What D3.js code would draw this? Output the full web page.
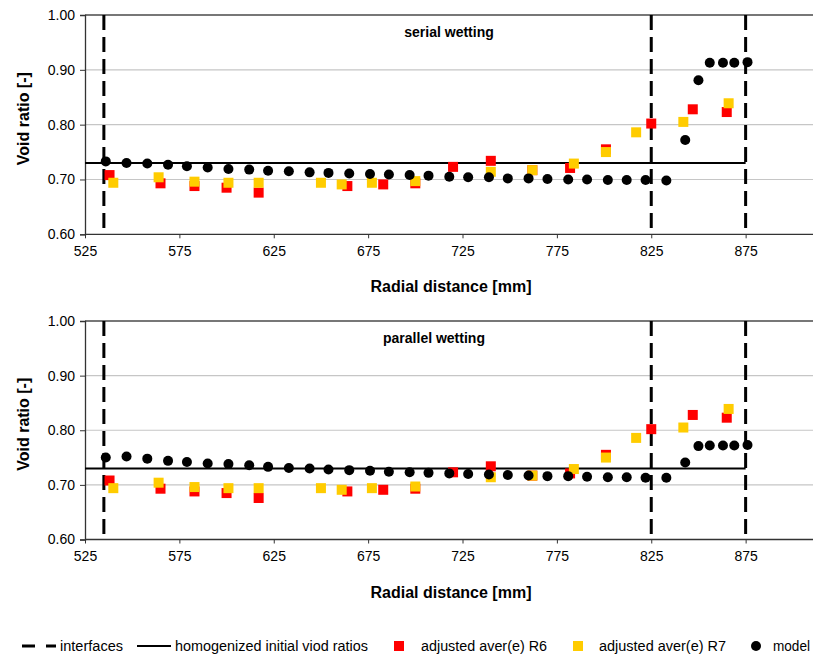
<!DOCTYPE html>
<html>
<head>
<meta charset="utf-8">
<script src="https://d3js.org/d3.v7.min.js"></script>
<style type="text/css">
    body { margin: 0; background: #fff; }
    text { font-family: Arial, "Liberation Sans", sans-serif; }
</style>
</head>
<body>
<script type="text/javascript">
// ---- data ----
var interfaces = [535, 825, 875];
var initialVoid = 0.73;

var r6X = [538, 565, 583, 600, 617, 664, 683, 700, 720, 740, 762, 782, 801, 825, 847, 865];
var r6Y = [0.708, 0.693, 0.688, 0.685, 0.676, 0.688, 0.691, 0.693, 0.723, 0.734, 0.717, 0.721, 0.755, 0.802, 0.828, 0.823];

var r7X = [540, 564, 583, 601, 617, 650, 661, 677, 700, 740, 762, 784, 801, 817, 842, 866];
var r7Y = [0.694, 0.704, 0.696, 0.694, 0.694, 0.694, 0.691, 0.694, 0.697, 0.714, 0.717, 0.729, 0.750, 0.786, 0.805, 0.839];

var modelX = [536, 547, 558, 569, 579, 590, 601, 612, 622, 633, 644, 654, 665, 676, 686, 697, 707, 718,
              728, 739, 749, 760, 770, 781, 791, 802, 812, 822, 833, 843, 850, 856, 863, 869, 876];
var serialModel = [0.733, 0.730, 0.729, 0.727, 0.724, 0.722, 0.719, 0.718, 0.716, 0.715, 0.713, 0.712,
                   0.711, 0.710, 0.709, 0.708, 0.707, 0.705, 0.704, 0.704, 0.702, 0.702, 0.701, 0.700,
                   0.700, 0.699, 0.699, 0.699, 0.698, 0.772, 0.881, 0.913, 0.913, 0.913, 0.914];
var parallelModel = [0.750, 0.752, 0.748, 0.744, 0.742, 0.739, 0.738, 0.736, 0.733, 0.731, 0.730, 0.728,
                     0.727, 0.726, 0.724, 0.723, 0.722, 0.721, 0.720, 0.719, 0.718, 0.717, 0.716, 0.716,
                     0.715, 0.714, 0.714, 0.713, 0.713, 0.741, 0.771, 0.772, 0.772, 0.772, 0.773];

var xTicks = [525, 575, 625, 675, 725, 775, 825, 875];
var yTicks = [0.60, 0.70, 0.80, 0.90, 1.00];

var panels = [
    {title: "serial wetting", model: serialModel, top: 15, bottom: 234.3, titleX: 449},
    {title: "parallel wetting", model: parallelModel, top: 321, bottom: 539.5, titleX: 434}
];

var W = 813, H = 655;
var svg = d3.select("body").append("svg").attr("width", W).attr("height", H);

var x = d3.scaleLinear().domain([525, 925]).range([85, 840]);

function pts(xs, ys) {
    return xs.map(function(d, i) { return {x: d, y: ys[i]}; });
}

panels.forEach(function(p) {
    var y = d3.scaleLinear().domain([0.6, 1.0]).range([p.bottom, p.top]);
    var g = svg.append("g");

    // horizontal gridlines
    g.selectAll(".grid").data([0.7, 0.8, 0.9]).enter().append("line")
        .attr("x1", x(525)).attr("x2", W)
        .attr("y1", function(d) { return y(d); }).attr("y2", function(d) { return y(d); })
        .style("stroke", "#c6c6c6").style("stroke-width", 1.2);
    g.append("line")
        .attr("x1", x(525)).attr("x2", W).attr("y1", y(1)).attr("y2", y(1))
        .style("stroke", "#4a4a4a").style("stroke-width", 1.3);

    // axes
    var yAxis = g.append("g").attr("transform", "translate(" + x(525) + ",0)")
        .call(d3.axisLeft(y).tickValues(yTicks).tickFormat(d3.format(".2f")).tickSize(5).tickPadding(5));
    var xAxis = g.append("g").attr("transform", "translate(0," + y(0.6) + ")")
        .call(d3.axisBottom(x).tickValues(xTicks).tickSize(4).tickPadding(8));
    [yAxis, xAxis].forEach(function(a) {
        a.select(".domain").style("stroke", "#333").style("stroke-width", 1.3);
        a.selectAll(".tick line").style("stroke", "#333");
        a.selectAll("text").style("font-size", "14px").style("fill", "#000").style("font-family", "Arial, 'Liberation Sans', sans-serif");
    });
    xAxis.select(".domain").attr("d", "M" + x(525) + ",0H" + W);

    // homogenized initial void ratio
    g.append("line")
        .attr("x1", x(525)).attr("x2", x(875))
        .attr("y1", y(initialVoid)).attr("y2", y(initialVoid))
        .style("stroke", "#000").style("stroke-width", 2);

    // interfaces
    g.selectAll(".iface").data(interfaces).enter().append("line")
        .attr("x1", function(d) { return x(d); }).attr("x2", function(d) { return x(d); })
        .attr("y1", y(1)).attr("y2", y(0.6))
        .style("stroke", "#000").style("stroke-width", 3)
        .style("stroke-dasharray", "15,7");

    // measured R6 then R7 squares
    var s = 10;
    g.selectAll(".r6").data(pts(r6X, r6Y)).enter().append("rect")
        .attr("x", function(d) { return x(d.x) - s / 2; })
        .attr("y", function(d) { return y(d.y) - s / 2; })
        .attr("width", s).attr("height", s).style("fill", "#ff0000");
    g.selectAll(".r7").data(pts(r7X, r7Y)).enter().append("rect")
        .attr("x", function(d) { return x(d.x) - s / 2; })
        .attr("y", function(d) { return y(d.y) - s / 2; })
        .attr("width", s).attr("height", s).style("fill", "#ffcc00");

    // model
    g.selectAll(".model").data(pts(modelX, p.model)).enter().append("circle")
        .attr("cx", function(d) { return x(d.x); })
        .attr("cy", function(d) { return y(d.y); })
        .attr("r", 5).style("fill", "#000");

    // labels
    g.append("text").attr("x", p.titleX).attr("y", p.top + 22)
        .attr("text-anchor", "middle").style("font-size", "14px").style("font-weight", "bold")
        .text(p.title);
    g.append("text").attr("x", 451).attr("y", p.bottom + 58)
        .attr("text-anchor", "middle").style("font-size", "16px").style("font-weight", "bold")
        .text("Radial distance [mm]");
    g.append("text")
        .attr("transform", "translate(29," + ((p.top + p.bottom) / 2 - 6) + ") rotate(-90)")
        .attr("text-anchor", "middle").style("font-size", "16px").style("font-weight", "bold")
        .text("Void ratio [-]");
});

// legend
var ly = 646;
var lg = svg.append("g");
lg.append("line").attr("x1", 22).attr("x2", 56).attr("y1", ly).attr("y2", ly)
    .style("stroke", "#000").style("stroke-width", 3).style("stroke-dasharray", "13,11");
lg.append("line").attr("x1", 137).attr("x2", 171).attr("y1", ly).attr("y2", ly)
    .style("stroke", "#000").style("stroke-width", 2);
lg.append("rect").attr("x", 394).attr("y", ly - 5).attr("width", 10).attr("height", 10).style("fill", "#ff0000");
lg.append("rect").attr("x", 573).attr("y", ly - 5).attr("width", 10).attr("height", 10).style("fill", "#ffcc00");
lg.append("circle").attr("cx", 756).attr("cy", ly).attr("r", 5).style("fill", "#000");

var legendText = [
    {x: 60, w: 63, t: "interfaces"},
    {x: 175, w: 193, t: "homogenized initial viod ratios"},
    {x: 421, w: 126, t: "adjusted aver(e) R6"},
    {x: 599, w: 127, t: "adjusted aver(e) R7"},
    {x: 773, w: 37, t: "model"}
];
lg.selectAll(".lt").data(legendText).enter().append("text")
    .attr("x", function(d) { return d.x; }).attr("y", ly + 5)
    .attr("textLength", function(d) { return d.w; })
    .attr("lengthAdjust", "spacingAndGlyphs")
    .style("font-size", "14px")
    .text(function(d) { return d.t; });
</script>
</body>
</html>
